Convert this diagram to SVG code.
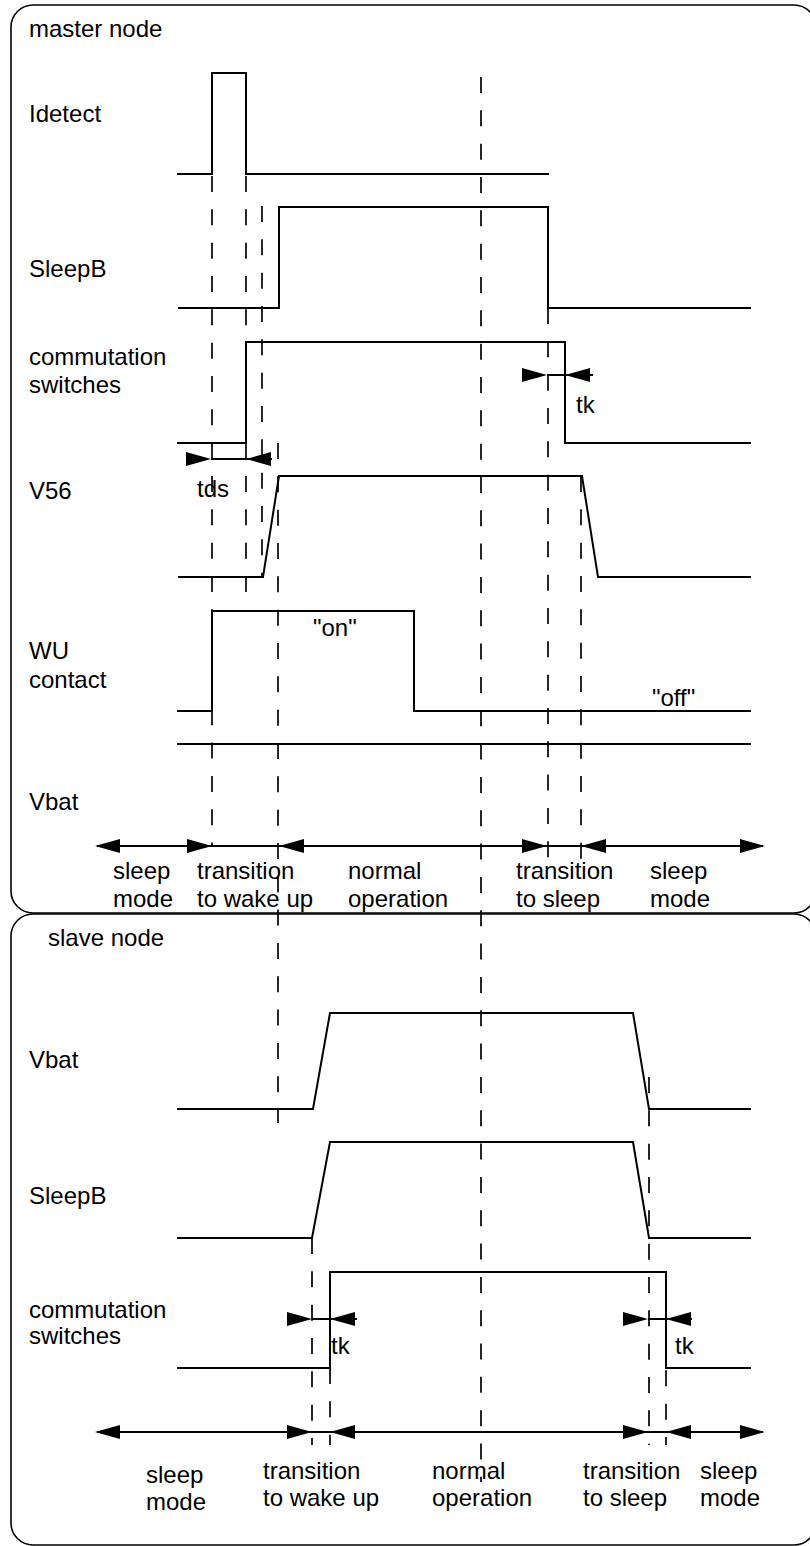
<svg xmlns="http://www.w3.org/2000/svg" width="810" height="1546" viewBox="0 0 810 1546">
<style>
text{font-family:"Liberation Sans",Arial,sans-serif;font-size:24px;fill:#000}
.w{fill:none;stroke:#000;stroke-width:2}
.d{fill:none;stroke:#000;stroke-width:1.7;stroke-dasharray:16 17.33}
.box{fill:none;stroke:#000;stroke-width:1.6}
.ah{fill:#000;stroke:none}
</style>
<defs>
<path id="ar" class="ah" d="M0,0 L-25,-7 L-25,7 Z"/>
<path id="al" class="ah" d="M0,0 L25,-7 L25,7 Z"/>
</defs>
<rect id="master-frame" class="box" x="11" y="5" width="805" height="908" rx="22"/>
<rect id="slave-frame" class="box" x="11" y="914" width="805" height="631" rx="22"/>

<g id="connectors">
<line class="d" x1="212" y1="176" x2="212" y2="846"/>
<line class="d" x1="246" y1="176" x2="246" y2="592"/>
<line class="d" x1="262" y1="206" x2="262" y2="577"/>
<line class="d" x1="278" y1="443" x2="278" y2="1123"/>
<line class="d" x1="481" y1="77" x2="481" y2="1482"/>
<line class="d" x1="548" y1="308" x2="548" y2="862"/>
<line class="d" x1="581" y1="476" x2="581" y2="862"/>
<line class="d" x1="312" y1="1238" x2="312" y2="1445"/>
<line class="d" x1="330" y1="1368" x2="330" y2="1445"/>
<line class="d" x1="649" y1="1077" x2="649" y2="1445"/>
<line class="d" x1="666" y1="1337" x2="666" y2="1445"/>
</g>

<g id="master">
<text x="29" y="37">master node</text>
<g id="m-idetect">
<text x="29" y="122">Idetect</text>
<path class="w" d="M177,174 H212 V73 H246 V174 H549"/>
</g>
<g id="m-sleepb">
<text x="29" y="277">SleepB</text>
<path class="w" d="M178,308 H279 V207 H548 V308 H751"/>
</g>
<g id="m-comm">
<text x="29" y="365">commutation</text>
<text x="29" y="393">switches</text>
<path class="w" d="M177,443 H246 V342 H565 V443 H751"/>
</g>
<g id="m-tds">
<line class="w" x1="211" y1="459" x2="272" y2="459"/>
<use href="#ar" x="211" y="459"/>
<use href="#al" x="246" y="459"/>
<text x="197" y="497">tds</text>
</g>
<g id="m-tk">
<line class="w" x1="547" y1="375" x2="593" y2="375"/>
<use href="#ar" x="547" y="375"/>
<use href="#al" x="565" y="375"/>
<text x="576" y="413">tk</text>
</g>
<g id="m-v56">
<text x="29" y="499">V56</text>
<path class="w" d="M178,577 H263 L279,476 H582 L598,577 H751"/>
</g>
<g id="m-wu">
<text x="29" y="659">WU</text>
<text x="29" y="688">contact</text>
<path class="w" d="M177,711 H212 V611 H414 V711 H751"/>
<text x="313" y="636">"on"</text>
<text x="652" y="706">"off"</text>
</g>
<g id="m-vbat">
<text x="29" y="810">Vbat</text>
<line class="w" x1="177" y1="744" x2="751" y2="744"/>
</g>
<g id="m-axis">
<line class="w" x1="97" y1="846" x2="763" y2="846"/>
<use href="#al" x="95" y="846"/>
<use href="#ar" x="212" y="846"/>
<use href="#al" x="279" y="846"/>
<use href="#ar" x="547" y="846"/>
<use href="#al" x="581" y="846"/>
<use href="#ar" x="765" y="846"/>
<text x="113" y="879">sleep</text>
<text x="113" y="907">mode</text>
<text x="197" y="879">transition</text>
<text x="197" y="907">to wake up</text>
<text x="348" y="879">normal</text>
<text x="348" y="907">operation</text>
<text x="516" y="879">transition</text>
<text x="516" y="907">to sleep</text>
<text x="650" y="879">sleep</text>
<text x="650" y="907">mode</text>
</g>
</g>

<g id="slave">
<text x="48" y="946">slave node</text>
<g id="s-vbat">
<text x="29" y="1068">Vbat</text>
<path class="w" d="M177,1109 H313 L330,1013 H633 L649,1109 H751"/>
</g>
<g id="s-sleepb">
<text x="29" y="1204">SleepB</text>
<path class="w" d="M177,1238 H312 L330,1142 H633 L649,1238 H751"/>
</g>
<g id="s-comm">
<text x="29" y="1318">commutation</text>
<text x="29" y="1344">switches</text>
<path class="w" d="M177,1368 H330 V1272 H666 V1368 H751"/>
</g>
<g id="s-tk1">
<line class="w" x1="312" y1="1319" x2="357" y2="1319"/>
<use href="#ar" x="312" y="1319"/>
<use href="#al" x="330" y="1319"/>
<text x="331" y="1354">tk</text>
</g>
<g id="s-tk2">
<line class="w" x1="648" y1="1319" x2="692" y2="1319"/>
<use href="#ar" x="648" y="1319"/>
<use href="#al" x="666" y="1319"/>
<text x="675" y="1354">tk</text>
</g>
<g id="s-axis">
<line class="w" x1="97" y1="1432" x2="763" y2="1432"/>
<use href="#al" x="95" y="1432"/>
<use href="#ar" x="312" y="1432"/>
<use href="#al" x="330" y="1432"/>
<use href="#ar" x="648" y="1432"/>
<use href="#al" x="666" y="1432"/>
<use href="#ar" x="765" y="1432"/>
<text x="146" y="1483">sleep</text>
<text x="146" y="1510">mode</text>
<text x="263" y="1479">transition</text>
<text x="263" y="1506">to wake up</text>
<text x="432" y="1479">normal</text>
<text x="432" y="1506">operation</text>
<text x="583" y="1479">transition</text>
<text x="583" y="1506">to sleep</text>
<text x="700" y="1479">sleep</text>
<text x="700" y="1506">mode</text>
</g>
</g>
</svg>
